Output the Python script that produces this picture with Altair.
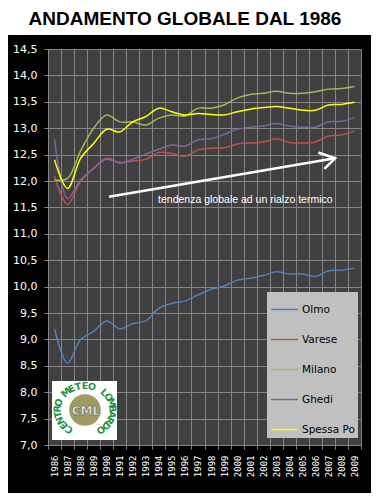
import altair as alt
import pandas as pd
import numpy as np

# ---------------- data ----------------
years = list(range(1986, 2010))
series_names = ["Olmo", "Varese", "Milano", "Ghedi", "Spessa Po"]
series_colors = ["#4F81BD", "#C0504D", "#9BBB59", "#8064A2", "#FFFF00"]

olmo = [9.20, 8.55, 9.00, 9.15, 9.35, 9.20, 9.30, 9.35, 9.59, 9.68, 9.73, 9.84,
        9.95, 10.01, 10.12, 10.16, 10.21, 10.28, 10.24, 10.24, 10.19, 10.30, 10.31, 10.35]
varese = [12.09, 11.56, 11.99, 12.24, 12.43, 12.35, 12.38, 12.41, 12.54, 12.52, 12.47, 12.59,
          12.62, 12.63, 12.70, 12.72, 12.74, 12.80, 12.73, 12.72, 12.74, 12.85, 12.87, 12.95]
milano = [12.02, 12.05, 12.57, 13.00, 13.25, 13.12, 13.12, 13.06, 13.19, 13.25, 13.23, 13.38,
          13.38, 13.44, 13.57, 13.64, 13.66, 13.70, 13.66, 13.66, 13.69, 13.74, 13.75, 13.79]
ghedi = [12.79, 11.67, 12.02, 12.24, 12.41, 12.34, 12.41, 12.51, 12.60, 12.68, 12.66, 12.78,
         12.80, 12.88, 12.98, 13.02, 13.04, 13.09, 13.04, 13.02, 13.02, 13.12, 13.13, 13.20]
spessa = [12.40, 11.86, 12.43, 12.71, 12.98, 12.93, 13.12, 13.22, 13.38, 13.31, 13.25, 13.28,
          13.26, 13.25, 13.31, 13.36, 13.39, 13.41, 13.38, 13.34, 13.34, 13.44, 13.45, 13.49]

y_ticks = [7.0, 7.5, 8.0, 8.5, 9.0, 9.5, 10.0, 10.5, 11.0, 11.5, 12.0, 12.5, 13.0, 13.5, 14.0, 14.5]

title_text = "ANDAMENTO GLOBALE DAL 1986"
note_text = "tendenza globale ad un rialzo termico"
logo_ring = "CENTRO METEO LOMBARDO"

# arrow (in data units: year, temperature)
arrow_x = [1990.18, 2007.51]
arrow_y = [11.70, 12.43]
head_x = [2006.23, 2007.51, 2006.69]
head_y = [12.54, 12.43, 12.23]

# ---------------- build tables ----------------
rows = []
for name, vals in zip(series_names, [olmo, varese, milano, ghedi, spessa]):
    for yr, v in zip(years, vals):
        rows.append({"anno": yr, "temp": v, "serie": name})
df = pd.DataFrame(rows)

W, H = 313, 396
x0, x1 = years[0] - 0.5, years[-1] + 0.5
xscale = alt.Scale(domain=[x0, x1], nice=False, zero=False)
yscale = alt.Scale(domain=[y_ticks[0], y_ticks[-1]], nice=False, zero=False)
bounds = [yr - 0.5 for yr in years] + [years[-1] + 0.5]

GRID = "#868686"

xaxis = alt.Axis(
    values=bounds,
    labelExpr=f"datum.value < {years[-1]} ? toString(datum.value + 0.5) : ''",
    labelAngle=270, labelAlign="right", labelBaseline="middle",
    labelOffset=W / len(years) / 2,
    labelFont="DejaVu Sans Mono", labelFontSize=9, labelColor="white",
    labelPadding=6, labelOverlap=False, labelBound=False, labelFlush=False,
    tickSize=4, tickColor=GRID, domainColor=GRID, gridColor=GRID,
    grid=True, title=None,
)
yaxis = alt.Axis(
    values=y_ticks,
    labelExpr="replace(format(datum.value, '.1f'), '.', ',')",
    labelFont="DejaVu Sans", labelFontSize=11, labelColor="white",
    labelPadding=7, labelOverlap=False, labelBound=False, labelFlush=False,
    tickSize=4, tickColor=GRID, domainColor=GRID, gridColor=GRID,
    grid=True, title=None,
)

legend = alt.Legend(
    orient="none", legendX=219, legendY=243,
    fillColor="#C0C0C0", padding=3,
    symbolType="stroke", symbolSize=729, symbolStrokeWidth=1.5,
    rowPadding=10, labelOffset=3,
    labelFont="DejaVu Sans", labelFontSize=10.5, labelColor="black",
)

one = pd.DataFrame({"t": [title_text]})

# px -> data helpers for decorative logo letters
def px2x(px):
    return x0 + px * (x1 - x0) / W

def py2y(py):
    return y_ticks[-1] - py * (y_ticks[-1] - y_ticks[0]) / H

# white band behind the title
title_band = alt.Chart(one).mark_rect(color="white").encode(
    x=alt.value(-40), x2=alt.value(323), y=alt.value(-41), y2=alt.value(-14)
)
title_mark = alt.Chart(one).mark_text(
    font="Liberation Sans", fontSize=19, fontWeight="bold", color="black",
    align="center", baseline="alphabetic",
).encode(x=alt.value(137), y=alt.value(-24), text="t:N")

# logo
logo_box = alt.Chart(one).mark_rect(color="white").encode(
    x=alt.value(4), x2=alt.value(69), y=alt.value(332), y2=alt.value(391)
)
logo_blob = alt.Chart(one).mark_point(
    filled=True, shape="circle", size=1000, color="#8E8A48", opacity=0.85
).encode(x=alt.value(37), y=alt.value(361))
logo_cml = alt.Chart(pd.DataFrame({"t": ["CML"]})).mark_text(
    font="DejaVu Sans", fontSize=12, fontWeight="bold", color="#EEEEEE",
    stroke="#555555", strokeWidth=0.5, align="center", baseline="middle",
).encode(x=alt.value(38), y=alt.value(362), text="t:N")

cx, cy, rx, ry = 37.0, 361.0, 27.5, 24.0
thetas = [-145 + i * 290 / (len(logo_ring) - 1) for i in range(len(logo_ring))]
ring = pd.DataFrame({
    "anno": [px2x(cx + rx * np.sin(np.radians(t))) for t in thetas],
    "temp": [py2y(cy - ry * np.cos(np.radians(t))) for t in thetas],
    "ang": [t % 360 for t in thetas],
    "ch": list(logo_ring),
})
logo_ring_mark = alt.Chart(ring).mark_text(
    font="DejaVu Sans", fontSize=9.5, fontWeight="bold", color="#1E9440",
    align="center", baseline="middle",
).encode(
    x=alt.X("anno:Q", scale=xscale, axis=xaxis),
    y=alt.Y("temp:Q", scale=yscale, axis=yaxis),
    angle=alt.Angle("ang:Q", scale=None),
    text="ch:N",
)

lines = alt.Chart(df).mark_line(strokeWidth=1.5, interpolate="catmull-rom").encode(
    x=alt.X("anno:Q", scale=xscale, axis=xaxis),
    y=alt.Y("temp:Q", scale=yscale, axis=yaxis),
    color=alt.Color("serie:N", title=None,
                    scale=alt.Scale(domain=series_names, range=series_colors),
                    legend=legend, sort=series_names),
)

arrow_df = pd.DataFrame({
    "anno": arrow_x + head_x,
    "temp": arrow_y + head_y,
    "part": ["shaft"] * len(arrow_x) + ["head"] * len(head_x),
    "i": list(range(len(arrow_x))) + list(range(len(head_x))),
})
arrow = alt.Chart(arrow_df).mark_line(color="white", strokeWidth=2.5).encode(
    x=alt.X("anno:Q", scale=xscale, axis=xaxis),
    y=alt.Y("temp:Q", scale=yscale, axis=yaxis),
    detail="part:N",
    order=alt.Order("i:Q"),
)

note = alt.Chart(pd.DataFrame({"anno": [1993.94], "temp": [11.58], "t": [note_text]})).mark_text(
    font="Liberation Sans", fontSize=10.5, color="white", align="left", baseline="alphabetic"
).encode(
    x=alt.X("anno:Q", scale=xscale, axis=xaxis),
    y=alt.Y("temp:Q", scale=yscale, axis=yaxis),
    text="t:N",
)

chart = alt.layer(
    title_band, title_mark, logo_box, logo_blob, logo_ring_mark, logo_cml,
    lines, arrow, note,
).properties(
    width=W, height=H, background="black",
    padding={"left": 40, "top": 41, "right": 10, "bottom": 48},
    autosize=alt.AutoSizeParams(type="none"),
).configure_view(fill="#404040", strokeWidth=0)

chart.save("out.html", embed_options={"renderer": "svg", "actions": False})
